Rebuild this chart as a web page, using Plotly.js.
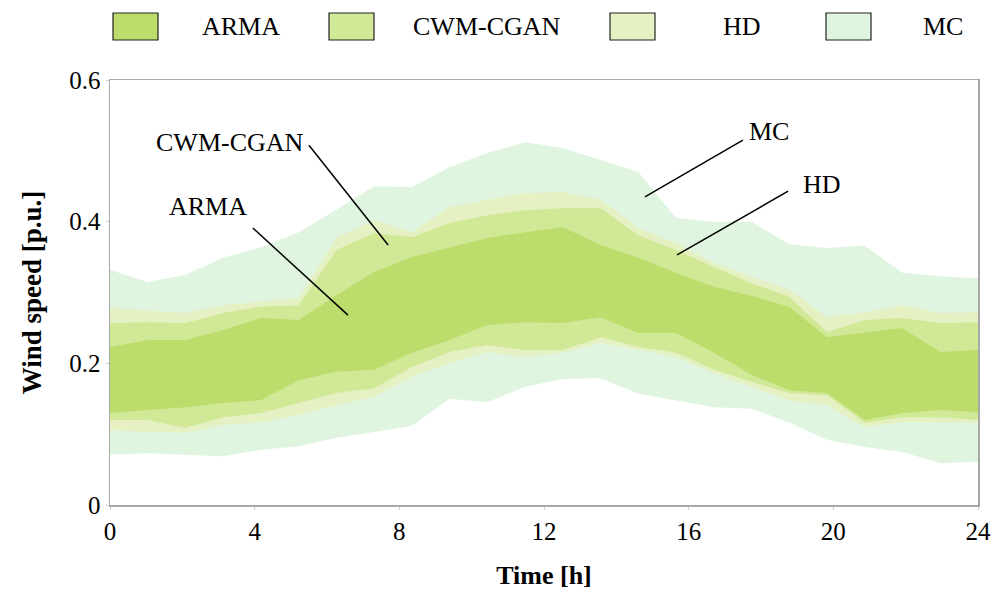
<!DOCTYPE html>
<html>
<head>
<meta charset="utf-8">
<script src="https://cdn.plot.ly/plotly-3.0.1.min.js"></script>
<style>html,body{margin:0;padding:0;background:#fff;}#chart{width:1005px;height:590px;}</style>
</head>
<body>
<div id="chart"></div>
<script>
// Time points (h) of the 24 samples across the 0-24 axis
const hours = [0, 1.04, 2.09, 3.13, 4.17, 5.22, 6.26, 7.30, 8.35, 9.39, 10.43, 11.48,
               12.52, 13.57, 14.61, 15.65, 16.70, 17.74, 18.78, 19.83, 20.87, 21.91, 22.96, 24];

const armaUpper = [0.223, 0.233, 0.233, 0.247, 0.264, 0.261, 0.296, 0.329, 0.350, 0.363, 0.377, 0.385,
                   0.392, 0.367, 0.349, 0.328, 0.308, 0.295, 0.280, 0.237, 0.243, 0.250, 0.216, 0.219];
const armaLower = [0.130, 0.134, 0.138, 0.144, 0.148, 0.176, 0.188, 0.191, 0.215, 0.233, 0.254, 0.258,
                   0.257, 0.265, 0.243, 0.243, 0.215, 0.184, 0.162, 0.158, 0.120, 0.130, 0.134, 0.131];

const cwmUpper = [0.257, 0.258, 0.257, 0.271, 0.280, 0.282, 0.360, 0.384, 0.378, 0.398, 0.409, 0.416,
                  0.419, 0.419, 0.381, 0.360, 0.336, 0.313, 0.294, 0.244, 0.261, 0.264, 0.257, 0.258];
const cwmLower = [0.120, 0.120, 0.109, 0.124, 0.130, 0.144, 0.158, 0.165, 0.195, 0.216, 0.226, 0.219,
                  0.219, 0.237, 0.223, 0.215, 0.191, 0.174, 0.158, 0.155, 0.116, 0.124, 0.124, 0.120];

const hdUpper = [0.278, 0.274, 0.271, 0.282, 0.287, 0.292, 0.377, 0.402, 0.385, 0.421, 0.431, 0.440,
                 0.442, 0.431, 0.391, 0.370, 0.342, 0.322, 0.304, 0.265, 0.272, 0.282, 0.271, 0.272];
const hdLower = [0.106, 0.103, 0.102, 0.113, 0.117, 0.127, 0.141, 0.153, 0.181, 0.200, 0.216, 0.209,
                 0.215, 0.229, 0.219, 0.209, 0.186, 0.167, 0.148, 0.141, 0.110, 0.117, 0.117, 0.116];

const mcUpper = [0.332, 0.315, 0.325, 0.349, 0.364, 0.385, 0.417, 0.450, 0.449, 0.477, 0.497, 0.512,
                 0.504, 0.487, 0.470, 0.405, 0.400, 0.400, 0.368, 0.363, 0.366, 0.328, 0.323, 0.320];
const mcLower = [0.071, 0.073, 0.071, 0.069, 0.078, 0.083, 0.095, 0.103, 0.112, 0.150, 0.145, 0.167,
                 0.178, 0.179, 0.157, 0.148, 0.138, 0.136, 0.116, 0.092, 0.082, 0.075, 0.059, 0.061];

const seriesNames = ['ARMA', 'CWM-CGAN', 'HD', 'MC'];
const xTicks = [0, 4, 8, 12, 16, 20, 24];
const yTicks = [0, 0.2, 0.4, 0.6];
const yTickText = ['0', '0.2', '0.4', '0.6'];

const colors = {ARMA: '#bcdc6c', 'CWM-CGAN': '#d1e997', HD: '#e5f0c3', MC: '#dff5e0'};

function band(name, upper, lower) {
  return {
    type: 'scatter', mode: 'lines', name: name,
    x: hours.concat(hours.slice().reverse()),
    y: upper.concat(lower.slice().reverse()),
    fill: 'toself', fillcolor: colors[name],
    line: {width: 0, color: colors[name]},
    hoverinfo: 'name', showlegend: false
  };
}

const traces = [
  band('MC', mcUpper, mcLower),
  band('HD', hdUpper, hdLower),
  band('CWM-CGAN', cwmUpper, cwmLower),
  band('ARMA', armaUpper, armaLower)
];

const font = "'Liberation Serif', 'Times New Roman', serif";

// custom legend (boxes + labels) in paper/pixel space
const legendBoxX = [113, 329, 610, 826];
const legendTextX = [241, 487, 742, 943];
const W = 1005, H = 590, L = 110, R = 27, T = 80, B = 85;
const pw = W - L - R, ph = H - T - B;
function px2paperX(px) { return (px - L) / pw; }
function py2paperY(py) { return (H - B - py) / ph; }

const shapes = [];
const annotations = [];
seriesNames.forEach((n, i) => {
  shapes.push({type: 'rect', xref: 'paper', yref: 'paper',
    x0: px2paperX(legendBoxX[i]), x1: px2paperX(legendBoxX[i] + 45),
    y0: py2paperY(40), y1: py2paperY(13),
    fillcolor: colors[n], line: {color: '#222', width: 1.2}});
  annotations.push({xref: 'paper', yref: 'paper', x: px2paperX(legendTextX[i]), y: py2paperY(27),
    text: n, showarrow: false, xanchor: 'center', yanchor: 'middle',
    font: {family: font, size: 26, color: '#000'}});
});

// leader lines and labels inside the plot
const callouts = [
  {text: 'CWM-CGAN', tx: 3.32, ty: 0.512, x0: 5.50, y0: 0.508, x1: 7.69, y1: 0.367},
  {text: 'ARMA', tx: 2.71, ty: 0.421, x0: 3.95, y0: 0.391, x1: 6.58, y1: 0.268},
  {text: 'MC', tx: 18.22, ty: 0.528, x0: 17.50, y0: 0.515, x1: 14.79, y1: 0.435},
  {text: 'HD', tx: 19.69, ty: 0.453, x0: 18.75, y0: 0.443, x1: 15.68, y1: 0.353}
];
callouts.forEach(c => {
  shapes.push({type: 'line', xref: 'x', yref: 'y', x0: c.x0, y0: c.y0, x1: c.x1, y1: c.y1,
    line: {color: '#000', width: 1.5}});
  annotations.push({xref: 'x', yref: 'y', x: c.tx, y: c.ty, text: c.text, showarrow: false,
    xanchor: 'center', yanchor: 'middle', font: {family: font, size: 26, color: '#000'}});
});

const layout = {
  width: W, height: H,
  margin: {l: L, r: R, t: T, b: B},
  paper_bgcolor: '#fff', plot_bgcolor: '#fff',
  showlegend: false,
  font: {family: font, size: 24, color: '#000'},
  xaxis: {
    range: [0, 24], tickvals: xTicks, ticktext: xTicks.map(String),
    showgrid: false, zeroline: false, showline: true, mirror: true,
    linecolor: '#a8a8a8', linewidth: 1.5, ticks: 'outside', ticklen: 3, tickcolor: '#ccc',
    tickfont: {family: font, size: 25, color: '#000'},
    title: {text: '<b>Time [h]</b>', font: {family: font, size: 26, color: '#000'}, standoff: 24}
  },
  yaxis: {
    range: [0, 0.6], tickvals: yTicks, ticktext: yTickText,
    showgrid: false, zeroline: false, showline: true, mirror: true,
    linecolor: '#a8a8a8', linewidth: 1.5, ticks: 'outside', ticklen: 3, tickcolor: '#ccc',
    tickfont: {family: font, size: 25, color: '#000'},
    title: {text: '<b>Wind speed [p.u.]</b>', font: {family: font, size: 27, color: '#000'}, standoff: 20}
  },
  shapes: shapes,
  annotations: annotations
};

Plotly.newPlot('chart', traces, layout, {displayModeBar: false, staticPlot: true});
</script>
</body>
</html>
